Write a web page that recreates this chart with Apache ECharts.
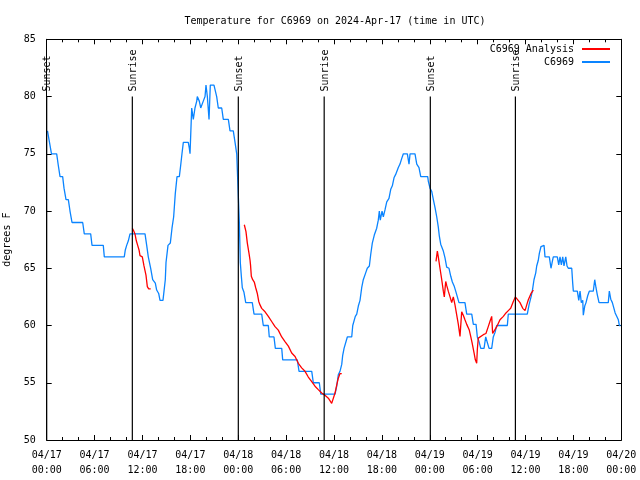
<!DOCTYPE html>
<html><head><meta charset="utf-8">
<script src="https://cdn.jsdelivr.net/npm/echarts@6/dist/echarts.min.js"></script>
<style>html,body{margin:0;padding:0;background:#fff}#c{width:640px;height:480px}</style>
</head><body><div id="c"></div>
<script>
// hours since 2024-04-17 00:00 UTC
const xTickLabels = ['04/17\n00:00','04/17\n06:00','04/17\n12:00','04/17\n18:00','04/18\n00:00','04/18\n06:00','04/18\n12:00','04/18\n18:00','04/19\n00:00','04/19\n06:00','04/19\n12:00','04/19\n18:00','04/20\n00:00'];

const observedC6969 = [
[0.10,77],[0.20,77],[0.35,76],[0.60,75],[1.25,75],[1.45,74],[1.67,73],[2.00,73],[2.17,72],[2.42,71],[2.71,71],[2.92,70],[3.17,69],[4.51,69],[4.71,68],[5.51,68],[5.68,67],[7.09,67],[7.22,66],[9.72,66],[9.85,66.6],[10.02,67],[10.23,67.4],[10.44,68],[12.32,68],[12.53,67],[12.73,66],[13.03,65],[13.28,64],[13.61,63.7],[13.78,63.1],[14.03,62.8],[14.20,62.2],[14.57,62.2],[14.70,63],[14.86,64],[14.95,65.5],[15.20,67],[15.49,67.2],[15.70,68.5],[15.91,69.5],[16.11,71.5],[16.33,73],[16.62,73],[16.79,74],[16.95,75],[17.12,76],[17.74,76],[17.87,75.5],[17.96,75],[18.17,79],[18.37,78],[18.58,79],[18.80,79.6],[18.87,80],[19.12,79.6],[19.30,79],[19.50,79],[19.62,79.6],[19.84,80],[19.96,81],[20.13,80],[20.34,78],[20.50,81],[20.96,81],[21.30,80],[21.50,79],[21.93,79],[22.13,78],[22.76,78],[22.97,77],[23.38,77],[23.60,76],[23.81,75],[24.04,75],[24.14,69],[24.26,65.5],[24.39,64.3],[24.51,63.3],[24.72,62.9],[24.94,62],[25.76,62],[25.98,61],[26.94,61],[27.14,60],[27.77,60],[27.89,59],[28.48,59],[28.65,58],[29.45,58],[29.57,57],[31.40,57],[31.62,56],[33.21,56],[33.41,55],[34.16,55],[34.34,54],[36.13,54],[36.34,54.7],[36.54,55.7],[36.75,56],[36.97,56.6],[37.09,57.4],[37.26,58],[37.51,58],[37.67,59],[38.22,59],[38.35,60],[38.67,60.8],[38.85,61],[39.05,61.7],[39.26,62.2],[39.47,63.3],[39.67,64],[39.97,64.6],[40.17,65],[40.43,65.2],[40.60,66.2],[40.80,67.2],[41.05,67.9],[41.35,68.5],[41.55,69.2],[41.68,70],[41.80,69.2],[42.02,70],[42.18,69.5],[42.39,70.1],[42.61,70.8],[42.89,71.1],[43.11,71.9],[43.31,72.2],[43.52,72.9],[43.73,73.2],[44.06,73.8],[44.27,74.1],[44.49,74.6],[44.69,75],[45.19,75],[45.40,74.1],[45.53,75],[46.15,75],[46.37,74.1],[46.65,73.8],[46.87,73],[47.74,73],[47.82,72.6],[48.03,72],[48.25,71.7],[48.45,71],[48.66,70.3],[48.87,69.5],[49.07,68.6],[49.20,67.8],[49.37,67.1],[49.70,66.5],[49.91,65.9],[50.12,65.1],[50.41,65],[50.63,64.3],[50.83,63.8],[51.08,63.4],[51.25,63],[51.45,62.9],[51.66,62],[52.41,62],[52.63,61],[53.26,61],[53.46,60.1],[53.80,60.1],[53.96,59],[54.17,58.6],[54.39,58],[54.80,58],[55.01,59],[55.21,59],[55.43,58],[55.76,58],[55.96,59],[56.18,59.4],[56.39,60],[57.72,60],[57.84,61],[60.22,61],[60.44,61.8],[60.69,62.5],[60.85,63],[61.06,64],[61.28,64.6],[61.40,65.2],[61.60,65.7],[61.73,66.3],[61.94,66.9],[62.15,67],[62.32,67],[62.44,66],[62.98,66],[63.19,65],[63.36,65.6],[63.48,66],[63.98,66],[64.16,65.3],[64.32,66],[64.49,65.3],[64.66,66],[64.82,65.2],[65.04,66],[65.20,65.2],[65.36,65],[65.79,65],[65.91,63.7],[65.99,63],[66.49,63],[66.67,62.2],[66.83,63],[66.99,62],[67.17,62.2],[67.24,60.9],[67.42,61.7],[67.58,62],[67.79,62.6],[67.99,63],[68.49,63],[68.67,64],[68.83,63.3],[68.99,62.7],[69.21,62],[70.37,62],[70.50,63],[70.68,62.3],[70.88,62],[71.09,62],[71.23,61.1],[71.44,61],[71.63,60.5],[71.76,60],[71.91,60]
];

const analysisDay1 = [[10.73,68.5],[10.88,68.3],[11.06,68],[11.23,67.4],[11.40,67],[11.57,66.6],[11.69,66.1],[11.98,66],[12.19,65.2],[12.44,64.4],[12.61,63.4],[12.78,63.2],[13.03,63.2]];
const analysisDay2 = [[24.76,68.8],[24.97,68.2],[25.14,67.2],[25.35,66.3],[25.48,65.7],[25.54,65.3],[25.64,64.3],[25.81,64],[26.01,63.8],[26.19,63.3],[26.39,62.8],[26.57,62.1],[26.73,61.8],[26.94,61.5],[27.36,61.2],[27.77,60.8],[28.19,60.35],[28.61,59.9],[29.02,59.6],[29.45,59],[29.86,58.6],[30.28,58.2],[30.70,57.6],[31.12,57.3],[31.53,56.7],[31.95,56.3],[32.37,56],[32.78,55.5],[33.21,55.1],[33.62,54.7],[34.03,54.4],[34.46,54.1],[34.87,53.9],[35.29,53.65],[35.71,53.2],[35.91,53.3],[36.13,54.1],[36.34,54.8],[36.54,55.4],[36.75,55.8],[36.97,55.8]];
const analysisDay3 = [[48.78,65.6],[48.95,66.5],[49.07,66],[49.28,65],[49.50,64],[49.70,63],[49.82,62.5],[50.00,63.85],[50.12,63.5],[50.32,63],[50.54,62.5],[50.75,62],[50.95,62.5],[51.16,61.8],[51.38,60.9],[51.58,60.1],[51.79,59.05],[52.00,61.2],[52.20,60.9],[52.41,60.5],[52.63,60.1],[52.95,59.6],[53.13,59.05],[53.30,58.5],[53.55,57.6],[53.71,57],[53.88,56.7],[53.96,57.9],[54.08,58.9],[54.29,59],[54.71,59.2],[55.04,59.3],[55.33,59.9],[55.54,60.35],[55.76,60.8],[55.88,59.3],[56.05,59.4],[56.39,59.9],[56.80,60.5],[57.22,60.8],[57.55,61.1],[57.84,61.3],[58.14,61.5],[58.47,62.1],[58.72,62.5],[58.97,62.4],[59.31,62],[59.65,61.5],[59.94,61.3],[60.15,61.8],[60.35,62.25],[60.69,62.8],[60.98,63.1]];

const sunHours = [0.0, 10.73, 24.01, 34.77, 48.07, 58.73];
const sunNames = ['Sunset','Sunrise','Sunset','Sunrise','Sunset','Sunrise'];
const sunLineTop = 80;

const MONO = 'DejaVu Sans Mono';
const RED = '#ff0000', BLUE = '#0a84ff';

const chart = echarts.init(document.getElementById('c'), null, {renderer:'canvas'});
const axisCommon = {
  min: 0, max: 72, interval: 6, type: 'value',
  axisLine: {show: true, onZero: false, lineStyle: {color: '#000', width: 1}},
  axisTick: {show: true, inside: true, length: 5, lineStyle: {color: '#000'}},
  minorTick: {show: true, splitNumber: 3, length: 3, lineStyle: {color: '#000'}},
  splitLine: {show: false}
};
const yCommon = {
  type: 'value', min: 50, max: 85, interval: 5,
  axisLine: {show: true, onZero: false, lineStyle: {color: '#000', width: 1}},
  axisTick: {show: true, inside: true, length: 5, lineStyle: {color: '#000'}},
  splitLine: {show: false}
};
const analysisStyle = {type: 'line', name: 'C6969 Analysis', symbol: 'none', xAxisIndex: 0, yAxisIndex: 0,
  lineStyle: {color: RED, width: 1.3}, itemStyle: {color: RED}, z: 3};

chart.setOption({
  animation: false,
  backgroundColor: '#fff',
  title: {text: 'Temperature for C6969 on 2024-Apr-17 (time in UTC)', left: 330, textAlign: 'center', top: 11,
    textStyle: {fontFamily: MONO, fontSize: 10, fontWeight: 'normal', color: '#000'}},
  legend: {right: 25, top: 39, orient: 'vertical', align: 'right', itemGap: 3, itemWidth: 28, itemHeight: 2,
    icon: 'rect',
    data: ['C6969 Analysis', 'C6969'],
    textStyle: {fontFamily: MONO, fontSize: 10, color: '#000', padding: [0, 3, 0, 0]}},
  grid: {left: 46.7, right: 18.7, top: 39.3, bottom: 40, containLabel: false, outerBoundsMode: 'none'},
  xAxis: [
    Object.assign({}, axisCommon, {position: 'bottom',
      axisLabel: {margin: 8, lineHeight: 15, fontFamily: MONO, fontSize: 10, color: '#000',
        formatter: v => xTickLabels[Math.round(v / 6)]}}),
    Object.assign({}, axisCommon, {position: 'top', axisLabel: {show: false}})
  ],
  yAxis: [
    Object.assign({}, yCommon, {position: 'left', name: 'degrees F', nameLocation: 'middle', nameGap: 32, nameRotate: 90,
      nameTextStyle: {fontFamily: MONO, fontSize: 10, color: '#000'},
      axisLabel: {margin: 11, fontFamily: MONO, fontSize: 10, color: '#000'}}),
    Object.assign({}, yCommon, {position: 'right', axisLabel: {show: false}})
  ],
  series: [
    Object.assign({}, analysisStyle, {data: analysisDay1}),
    Object.assign({}, analysisStyle, {data: analysisDay2}),
    Object.assign({}, analysisStyle, {data: analysisDay3}),
    {type: 'line', name: 'C6969', symbol: 'none', data: observedC6969,
      lineStyle: {color: BLUE, width: 1.3}, itemStyle: {color: BLUE}, z: 2},
    {type: 'custom', name: 'sun', silent: true, z: 4,
      data: sunHours.map((h, i) => [h, i]),
      renderItem: function (params, api) {
        const h = api.value(0);
        const i = api.value(1);
        const p0 = api.coord([h, 50]);
        const p1 = api.coord([h, sunLineTop]);
        return {type: 'group', children: [
          {type: 'line', shape: {x1: p0[0], y1: p0[1], x2: p1[0], y2: p1[1]}, style: {stroke: '#000', lineWidth: 1.2}},
          {type: 'text', x: p1[0] + 1, y: p1[1] - 5, rotation: Math.PI / 2,
            style: {text: sunNames[i], fontFamily: MONO, fontSize: 10, fill: '#000', align: 'left', verticalAlign: 'middle'}}
        ]};
      }}
  ]
});
</script></body></html>
